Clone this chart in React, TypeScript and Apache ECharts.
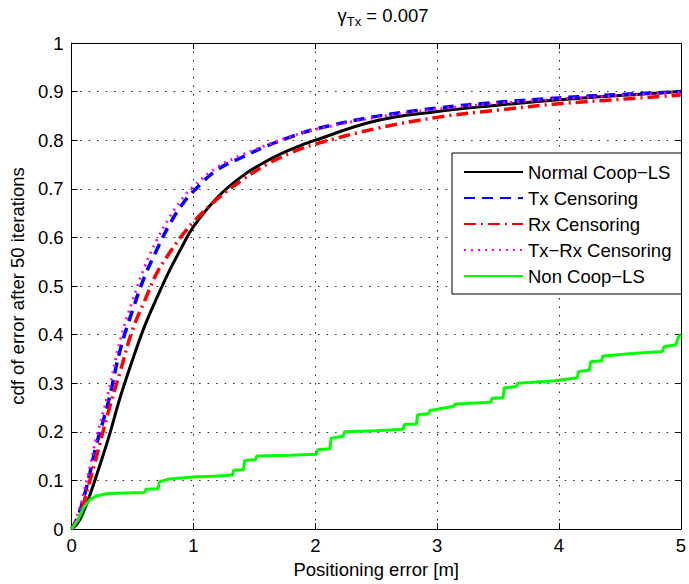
import React, { useEffect, useRef } from "react";
import * as echarts from "echarts";

const xGrid = [0, 0.05, 0.1, 0.15, 0.2, 0.3, 0.4, 0.5, 0.6, 0.7, 0.8, 0.9, 1.0, 1.2, 1.4, 1.6, 1.8, 2.0, 2.5, 3.0, 3.5, 4.0, 4.5, 5.0];
const normalCoop = [0, 0.012, 0.037, 0.07, 0.107, 0.185, 0.272, 0.348, 0.418, 0.476, 0.53, 0.578, 0.622, 0.683, 0.726, 0.757, 0.781, 0.8, 0.84, 0.859, 0.872, 0.883, 0.892, 0.9];
const txCens = [0, 0.025, 0.065, 0.115, 0.17, 0.26, 0.37, 0.45, 0.52, 0.575, 0.625, 0.665, 0.695, 0.74, 0.765, 0.788, 0.807, 0.823, 0.849, 0.866, 0.878, 0.887, 0.894, 0.9];
const rxCens = [0, 0.02, 0.055, 0.1, 0.145, 0.24, 0.325, 0.41, 0.47, 0.527, 0.567, 0.602, 0.632, 0.68, 0.718, 0.75, 0.774, 0.792, 0.824, 0.847, 0.862, 0.875, 0.884, 0.893];
const txRxCens = [0, 0.03, 0.075, 0.128, 0.185, 0.28, 0.39, 0.47, 0.54, 0.595, 0.64, 0.677, 0.705, 0.745, 0.77, 0.79, 0.808, 0.822, 0.847, 0.864, 0.876, 0.885, 0.892, 0.899];

const greenX = [0, 0.05, 0.1, 0.15, 0.2, 0.3, 0.45, 0.6, 0.61, 0.71, 0.72, 0.8, 1.0, 1.2, 1.32, 1.33, 1.41, 1.42, 1.51, 1.52, 1.8, 2.01, 2.02, 2.12, 2.13, 2.23, 2.24, 2.5, 2.72, 2.73, 2.83, 2.84, 2.93, 2.94, 3.13, 3.15, 3.44, 3.45, 3.54, 3.55, 3.65, 3.66, 3.97, 4.15, 4.16, 4.25, 4.26, 4.35, 4.36, 4.6, 4.85, 4.86, 4.96, 4.98, 5.0];
const nonCoop = [0, 0.018, 0.045, 0.06, 0.068, 0.073, 0.074, 0.075, 0.082, 0.083, 0.097, 0.103, 0.107, 0.109, 0.111, 0.121, 0.122, 0.141, 0.143, 0.15, 0.152, 0.154, 0.163, 0.165, 0.187, 0.191, 0.2, 0.202, 0.205, 0.215, 0.216, 0.235, 0.237, 0.244, 0.252, 0.257, 0.261, 0.269, 0.27, 0.29, 0.293, 0.3, 0.305, 0.311, 0.324, 0.327, 0.344, 0.346, 0.356, 0.361, 0.365, 0.375, 0.379, 0.395, 0.4];

const seriesNames = ["Normal Coop\u2212LS", "Tx Censoring", "Rx Censoring", "Tx\u2212Rx Censoring", "Non Coop\u2212LS"];
const xTicks = { min: 0, max: 5, interval: 1 };
const yTicks = { min: 0, max: 1, interval: 0.1 };

const FONT = "Liberation Sans";
const FS = 18.5;

function pairs(xs: number[], ys: number[]) {
  return xs.map((x, i) => [x, ys[i]]);
}

export default function App() {
  const ref = useRef<HTMLDivElement>(null);
  useEffect(() => {
    if (!ref.current) return;
    const chart = echarts.init(ref.current, undefined, { renderer: "svg" });
    const dotted = { type: [1.5, 7] as number[], color: "#222", width: 1 };
    const lineMk = (name: string, ys: number[], color: string, width: number, type: any, xs = xGrid, smooth = true) => ({
      name,
      type: "line",
      data: pairs(xs, ys),
      showSymbol: false,
      symbol: "none",
      smooth: smooth ? 0.4 : false,
      lineStyle: { color, width, type },
      itemStyle: { color },
      z: 3,
    });
    chart.setOption({
      animation: false,
      backgroundColor: "#fff",
      textStyle: { fontFamily: FONT },
      title: {
        text: "{g|\u03b3}{s|Tx}{n| = 0.007}",
        left: 378,
        top: -2,
        textAlign: "center",
        textStyle: {
          fontWeight: "normal",
          rich: {
            g: { fontFamily: FONT, fontSize: FS, fontWeight: "normal", color: "#000" },
            s: { fontFamily: FONT, fontSize: 13, fontWeight: "normal", color: "#000", padding: [12, 0, 0, 0] },
            n: { fontFamily: FONT, fontSize: FS, fontWeight: "normal", color: "#000" },
          },
        },
      },
      grid: { left: 70, right: 2, top: 43, bottom: 55, containLabel: false },
      legend: {
        orient: "vertical",
        left: 452,
        top: 153,
        padding: [9, 10, 8, 11],
        itemWidth: 59,
        itemHeight: 14,
        itemGap: 6,
        backgroundColor: "#fff",
        borderColor: "#000",
        borderWidth: 1,
        borderRadius: 0,
        itemStyle: { color: "rgba(0,0,0,0)", borderColor: "rgba(0,0,0,0)", borderWidth: 0 },
        textStyle: { fontFamily: FONT, fontSize: FS, color: "#000", lineHeight: 20 },
        data: seriesNames,
      },
      xAxis: [
        {
          type: "value",
          ...xTicks,
          name: "Positioning error [m]",
          nameLocation: "middle",
          nameGap: 29,
          nameTextStyle: { fontFamily: FONT, fontSize: FS, color: "#000" },
          axisLine: { show: true, onZero: false, lineStyle: { color: "#000", width: 1 } },
          axisTick: { show: true, inside: true, length: 6, lineStyle: { color: "#000" } },
          axisLabel: { fontFamily: FONT, fontSize: FS, color: "#000", margin: 7 },
          splitLine: { show: true, lineStyle: dotted },
        },
        {
          type: "value",
          ...xTicks,
          position: "top",
          axisLine: { show: true, onZero: false, lineStyle: { color: "#000", width: 1 } },
          axisTick: { show: true, inside: true, length: 6, lineStyle: { color: "#000" } },
          axisLabel: { show: false },
          splitLine: { show: false },
        },
      ],
      yAxis: [
        {
          type: "value",
          ...yTicks,
          name: "cdf of error after 50 iterations",
          nameLocation: "middle",
          nameGap: 44,
          nameTextStyle: { fontFamily: FONT, fontSize: FS, color: "#000" },
          axisLine: { show: true, onZero: false, lineStyle: { color: "#000", width: 1 } },
          axisTick: { show: true, inside: true, length: 6, lineStyle: { color: "#000" } },
          axisLabel: { fontFamily: FONT, fontSize: FS, color: "#000", margin: 8 },
          splitLine: { show: true, lineStyle: dotted },
        },
        {
          type: "value",
          ...yTicks,
          position: "right",
          axisLine: { show: true, onZero: false, lineStyle: { color: "#000", width: 1 } },
          axisTick: { show: true, inside: true, length: 6, lineStyle: { color: "#000" } },
          axisLabel: { show: false },
          splitLine: { show: false },
        },
      ],
      series: [
        lineMk(seriesNames[0], normalCoop, "#000000", 3, "solid"),
        lineMk(seriesNames[1], txCens, "#0000ff", 3.5, [11, 7]),
        lineMk(seriesNames[2], rxCens, "#ff0000", 3.5, [12, 5, 2, 5]),
        lineMk(seriesNames[3], txRxCens, "#ff00ff", 2.8, [2, 5]),
        lineMk(seriesNames[4], nonCoop, "#00ff00", 3, "solid", greenX, false),
      ],
    });
    return () => chart.dispose();
  }, []);
  return (
    <div
      ref={ref}
      style={{ position: "fixed", left: 0, top: 0, width: 689, height: 584, background: "#fff" }}
    />
  );
}
